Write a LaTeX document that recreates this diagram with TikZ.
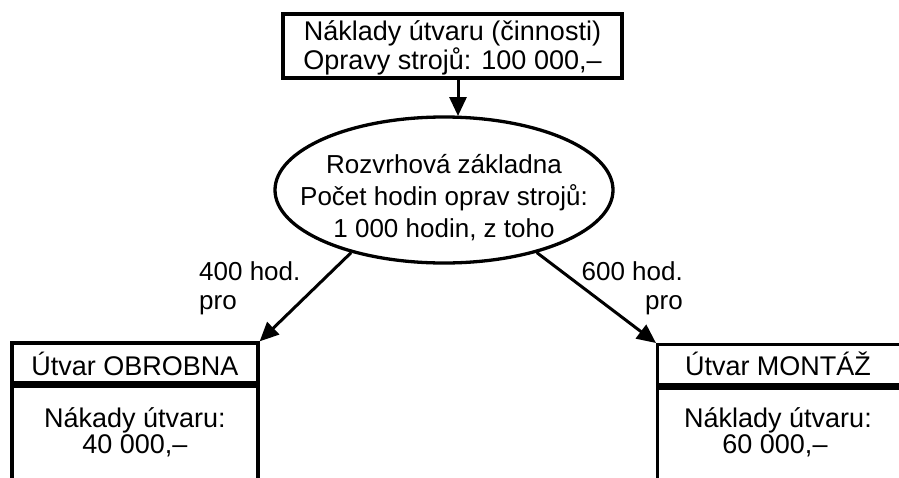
\documentclass[tikz,border=0pt]{standalone}
\usepackage{fontspec}
\setmainfont{Liberation Sans}
\usetikzlibrary{shapes.geometric,arrows.meta}
\begin{document}
\begin{tikzpicture}[x=1pt,y=-1pt,
  lw/.style={line width=3.3pt},
  txt/.style={font=\fontsize{27}{27}\selectfont, inner sep=0pt, anchor=base},
  etxt/.style={font=\fontsize{26}{31}\selectfont, inner sep=0pt, anchor=base},
  arr/.style={line width=3pt, -{Triangle[length=19pt,width=17pt]}},
  frame/.style={draw, lw, inner sep=0pt}]
\useasboundingbox (0,0) rectangle (899,477);
\clip (0,0) rectangle (899,477);
\fill[white] (0,0) rectangle (899,477);
% top box
\node[frame, minimum width=339pt, minimum height=64pt] (top) at (452.5,46) {};
\node[txt, align=center, font=\fontsize{27}{24}\selectfont] (t1) at (452.5,69) {Náklady útvaru (činnosti)\\Opravy strojů: 100 000,–};
% ellipse
\node[draw, lw, ellipse, minimum width=338pt, minimum height=146pt, inner sep=0pt] (ell) at (444,190) {};
\node[etxt] (e1) at (444,173) {Rozvrhová základna};
\node[etxt] (e2) at (444,205) {Počet hodin oprav strojů:};
\node[etxt] (e3) at (444,237) {1 000 hodin, z toho};
% left box
\node[frame, minimum width=246pt, minimum height=40pt] (lhead) at (135,363) {};
\node[txt] (lh) at (135,375) {Útvar OBROBNA};
\node[frame, minimum width=246pt, minimum height=140pt, anchor=north] (lbody) at (lhead.south) {};
\node[txt] (lb1) at (135,427) {Nákady útvaru:};
\node[txt] (lb2) at (135,453) {40 000,–};
% right box
\node[frame, minimum width=300pt, minimum height=40pt, anchor=north west] (rhead) at (656,343) {};
\node[txt] (rh) at (778,375) {Útvar MONTÁŽ};
\node[frame, minimum width=300pt, minimum height=140pt, anchor=north] (rbody) at (rhead.south) {};
\node[txt] (rb1) at (778,427) {Náklady útvaru:};
\node[txt] (rb2) at (775,453) {60 000,–};
% labels
\node[etxt, anchor=base west] (l1) at (199,280) {400 hod.};
\node[etxt, anchor=base west] (l2) at (199,309) {pro};
\node[etxt, anchor=base east] (r1) at (683,280) {600 hod.};
\node[etxt, anchor=base east] (r2) at (683,309) {pro};
% arrows
\coordinate (topstart) at (458,78);
\coordinate (topend) at (458,116);
\draw[arr] (topstart) -- (topend);
\draw[arr] (ell.-146) -- (lhead.north east);
\draw[arr] (ell.-34) -- (rhead.north west);
\end{tikzpicture}
\end{document}
